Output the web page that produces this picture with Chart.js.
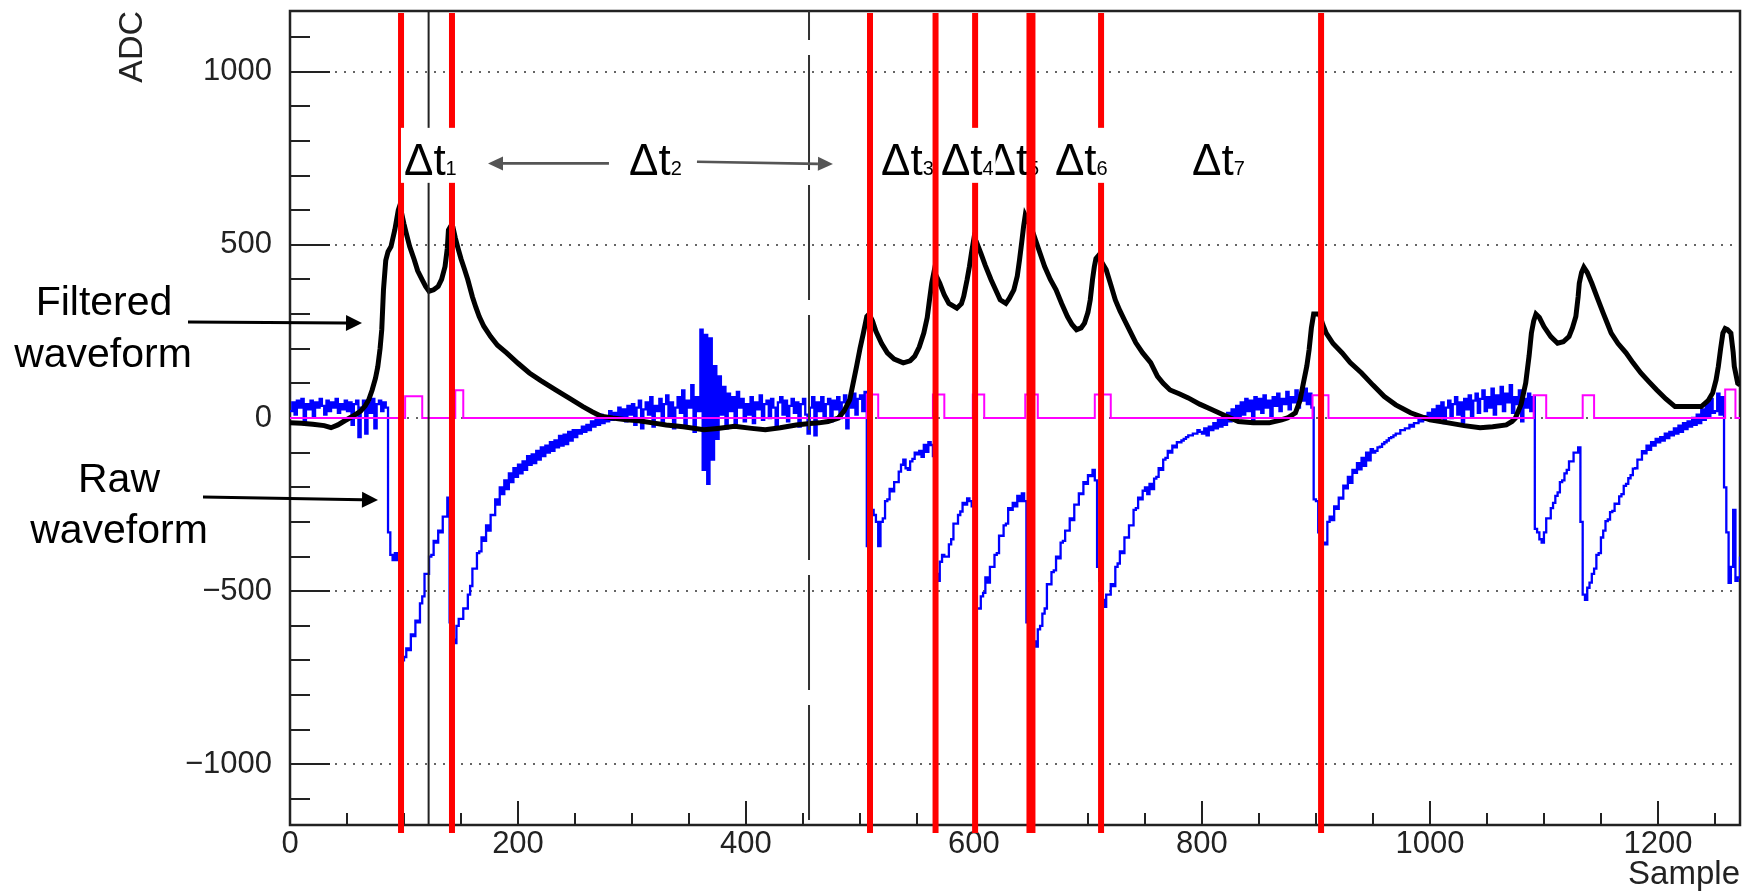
<!DOCTYPE html>
<html>
<head>
<meta charset="utf-8">
<style>
  html, body { margin: 0; padding: 0; background: #fff; }
  #wrap { width: 1742px; height: 896px; }
</style>
</head>
<body>
<div id="wrap"><canvas id="waveChart" width="1742" height="896"></canvas></div>
<script src="https://cdn.jsdelivr.net/npm/chart.js@4.4.1/dist/chart.umd.min.js"></script>
<script>
// axis tick labels
const xTickValues = [0, 200, 400, 600, 800, 1000, 1200];
const yTickValues = [-1000, -500, 0, 500, 1000];

// raw waveform, one value every rawStep samples starting at sample 0
const rawStep = 2;
const rawAdc = [
  20, 45, 10, 50, 30, 55, -15, 40, 25, 50, 5, 45, 30, 55, 35, 10, 50, 20, 45, 30, 55, 15, 40, 25, 50,
  20, 45, -20, 40, 50, -55, 30, 50, -45, 45, 15, 55, -30, 40, 50, 20, 45, 30, -330, -395, -410, -390, -410, -705, -700,
  -690, -665, -670, -625, -630, -585, -590, -535, -515, -450, -450, -400, -395, -355, -360, -325, -330, -285, -285, -230, -590, -640, -650, -600, -580,
  -580, -550, -550, -510, -485, -435, -435, -390, -385, -345, -355, -310, -325, -280, -280, -235, -250, -200, -220, -180, -205, -160, -185, -145, -170,
  -135, -160, -125, -150, -110, -135, -105, -130, -95, -120, -85, -110, -80, -100, -70, -95, -65, -85, -52, -80, -48, -75, -40, -65, -35,
  -55, -35, -45, -25, -40, -20, -35, -10, -25, 0, -20, 10, -15, 5, -10, 20, -5, 15, 0, 30, 5, 25, -10, 35, 10,
  40, -20, 30, 50, -30, 25, 45, 10, 60, -25, 35, 20, 55, -15, 40, 65, 5, 45, -30, 30, 60, 15, 80, -20, 50,
  30, 95, -40, 60, 20, 255, -150, 240, -190, 230, -120, 150, -60, 120, 10, 90, -30, 70, 20, 60, -20, 75, 30, 55, -10,
  40, 10, 60, -15, 45, 25, 65, -5, 40, 50, 0, 55, 30, -20, 45, 60, 10, 50, -10, 35, 55, 15, 45, -25, 40,
  55, 10, -45, 30, 60, -50, 45, 20, 60, 5, 40, 55, -10, 50, 25, 60, 0, 45, 65, -30, 50, 30, 70, 10, 55,
  65, 20, 75, -370, -330, -265, -280, -300, -370, -300, -290, -240, -235, -205, -212, -185, -185, -155, -135, -120, -145, -150, -125, -118, -100,
  -105, -95, -112, -78, -98, -70, -78, -110, -450, -470, -415, -395, -400, -400, -365, -350, -305, -305, -280, -270, -245, -250, -232, -240, -255,
  -580, -550, -550, -515, -505, -460, -475, -430, -430, -395, -390, -340, -340, -310, -305, -260, -265, -245, -255, -225, -240, -218, -240, -590, -600,
  -620, -645, -660, -610, -600, -565, -550, -480, -480, -445, -440, -400, -405, -360, -355, -325, -325, -290, -295, -250, -250, -218, -220, -185, -190,
  -165, -168, -150, -180, -430, -470, -525, -545, -510, -510, -480, -485, -430, -420, -385, -390, -345, -345, -310, -310, -265, -260, -230, -235, -210,
  -200, -220, -190, -205, -175, -170, -145, -150, -120, -115, -95, -100, -80, -85, -70, -70, -65, -60, -55, -50, -50, -45, -45, -35, -40,
  -45, -30, -50, -25, -35, -15, -30, -5, -25, 5, -20, 15, -10, 25, -5, 35, 5, 45, 10, 55, 20, 50, -5, 60, 25,
  55, 15, 65, 30, 50, 5, 60, 35, 70, 20, 55, 40, 75, 25, 60, 45, 80, 30, 65, 50, 85, 40, 70, 30, -235,
  -240, -330, -340, -360, -365, -300, -285, -295, -255, -262, -230, -233, -195, -203, -170, -187, -150, -158, -130, -148, -115, -138, -100, -122, -90,
  -100, -95, -85, -83, -75, -70, -65, -58, -55, -50, -45, -45, -35, -35, -30, -30, -20, -25, -15, -15, -5, -10, 5, -5, 15,
  -5, 25, -10, 35, 5, 45, -15, 30, 50, 0, 40, 60, 10, 45, -20, 55, 25, 65, 5, 50, 70, 15, 55, 80, 20,
  60, 30, 85, 10, 65, 40, 90, 20, 70, 45, 95, 15, 60, 40, 80, -10, 55, 30, 70, 20, 60, -320, -330, -350, -360,
  -330, -290, -290, -260, -245, -225, -215, -185, -180, -160, -150, -125, -125, -100, -100, -85, -300, -510, -525, -490, -475, -450, -435, -395, -390,
  -345, -325, -298, -293, -272, -268, -247, -248, -226, -220, -196, -190, -174, -165, -146, -145, -120, -120, -96, -102, -80, -92, -70, -80, -60,
  -70, -55, -65, -45, -58, -40, -50, -30, -45, -22, -40, -15, -32, -10, -25, 0, -20, 10, -15, 25, -5, 40, 5, 55, 15,
  20, 70, 10, 60, -200, -330, -476, -430, -265, -470, -460, -400
];

// filtered waveform
const filtSample = [
  0, 10, 20, 30, 36, 42, 48, 55, 62, 66, 69, 72, 75, 77, 79, 80.5, 82, 84, 86, 88.6, 92, 95, 96, 98, 100,
  102, 105, 109, 112, 116, 119, 122, 126, 130, 133, 136, 138, 139, 141, 143, 145, 147, 150, 153, 156, 160, 163, 166, 170, 176,
  182, 190, 200, 210, 220, 233, 246, 257, 265, 273, 283, 295, 306, 318, 330, 345, 363, 375, 390, 405, 417, 430, 444, 456, 464,
  472, 481, 486, 491, 494, 497, 500, 503, 506, 508, 511, 514, 519, 524, 530, 538, 544, 548, 552, 556, 559, 561, 563, 565, 567,
  570, 574, 578, 585, 589, 591, 594, 596, 598, 600, 602, 606, 610, 615, 619, 623, 628, 631, 635, 638, 640, 642, 643.5, 645, 648,
  652, 657, 662, 667, 672, 677, 682, 686, 690, 694, 697, 700, 702, 704, 705.6, 707, 709, 712, 716, 720, 724, 728, 732, 737, 742,
  748, 755, 761, 766, 772, 780, 788, 798, 809, 820, 832, 845, 859, 870, 875, 882, 886, 889, 892, 894, 896, 898, 903, 906, 909,
  915, 923, 930, 940, 950, 960, 970, 983, 1000, 1016, 1030, 1044, 1055, 1067, 1072, 1075, 1080, 1084, 1087, 1089, 1091, 1093, 1096, 1100, 1106,
  1112, 1117, 1122, 1125, 1128, 1130, 1131, 1133, 1135, 1138, 1142, 1147, 1152, 1156, 1159, 1165, 1172, 1178, 1185, 1192, 1199, 1207, 1215, 1225, 1238,
  1244, 1248, 1251, 1253, 1255, 1257, 1259, 1261, 1264, 1266, 1267, 1270, 1272
];
const filtAdc = [
  -14, -15, -18, -22, -28, -20, -8, 5, 20, 35, 52, 80, 115, 148, 200, 255, 370, 455, 480, 495, 544, 600, 610, 590, 560,
  533, 495, 457, 425, 399, 380, 366, 370, 380, 400, 437, 490, 543, 554, 550, 520, 495, 460, 430, 399, 350, 320, 293, 265, 235,
  210, 188, 158, 130, 108, 81, 55, 33, 18, 5, 0, -5, -8, -14, -20, -25, -34, -30, -24, -30, -34, -28, -20, -16, -14,
  -10, 0, 20, 52, 100, 149, 200, 245, 293, 300, 280, 250, 215, 188, 170, 159, 165, 178, 205, 245, 290, 341, 390, 423, 410,
  389, 355, 331, 317, 330, 351, 400, 437, 480, 519, 510, 476, 440, 399, 370, 341, 331, 345, 370, 410, 457, 510, 552, 585, 565,
  533, 485, 437, 400, 370, 330, 293, 270, 255, 260, 274, 305, 341, 400, 437, 460, 468, 450, 428, 385, 341, 310, 283, 250, 217,
  188, 160, 120, 100, 81, 70, 58, 40, 24, 7, -10, -14, -14, -5, 0, 15, 50, 101, 150, 197, 260, 300, 300, 270, 245,
  215, 188, 160, 130, 95, 62, 38, 15, -5, -14, -22, -28, -25, -20, -10, 0, 40, 101, 180, 245, 280, 300, 290, 264, 235,
  216, 220, 235, 260, 293, 350, 389, 420, 435, 420, 389, 345, 303, 270, 245, 215, 188, 160, 130, 105, 81, 55, 33, 33, 33,
  50, 72, 110, 149, 200, 245, 258, 255, 245, 190, 149, 100, 95
];

// trigger output (held from each sample until the next)
const trigSample = [0, 101, 116, 145, 152, 506, 516, 564, 574, 599, 609, 645, 656, 706, 720, 897, 911, 1091, 1102, 1134, 1144, 1259, 1268, 1272];
const trigAdc = [0, 63, 0, 80, 0, 68, 0, 68, 0, 68, 0, 68, 0, 68, 0, 66, 0, 66, 0, 66, 0, 82, 0, 0];

// marker positions (samples)
const redSample = [97.4, 142.1, 508.8, 566.3, 601, 650, 711.5, 904.5];
const solidSample = 121.6;
const dashedSample = 455.3;

const deltaLabels = [
  { sub: '1', s: 100, v: 702 },
  { sub: '2', s: 297.4, v: 702 },
  { sub: '3', s: 518.5, v: 702 },
  { sub: '5', s: 611, v: 702 },
  { sub: '4', s: 571, v: 702 },
  { sub: '6', s: 671, v: 702 },
  { sub: '7', s: 791.3, v: 702 }
];

const FONT = '"Liberation Sans", Arial, Helvetica, sans-serif';

function drawArrow(ctx, x1, y1, x2, y2, color, width, headLen, headW) {
  const ang = Math.atan2(y2 - y1, x2 - x1);
  const bx = x2 - headLen * Math.cos(ang);
  const by = y2 - headLen * Math.sin(ang);
  ctx.strokeStyle = color;
  ctx.fillStyle = color;
  ctx.lineWidth = width;
  ctx.beginPath();
  ctx.moveTo(x1, y1);
  ctx.lineTo(bx, by);
  ctx.stroke();
  ctx.beginPath();
  ctx.moveTo(x2, y2);
  ctx.lineTo(bx + headW * Math.sin(ang), by - headW * Math.cos(ang));
  ctx.lineTo(bx - headW * Math.sin(ang), by + headW * Math.cos(ang));
  ctx.closePath();
  ctx.fill();
}

const decorPlugin = {
  id: 'decor',
  beforeDatasetsDraw(chart) {
    const { ctx, chartArea: a, scales: { x, y } } = chart;
    ctx.save();
    // dotted grid on the major y ticks
    ctx.strokeStyle = '#333';
    ctx.lineWidth = 1.6;
    ctx.setLineDash([2, 7]);
    y.ticks.forEach(t => {
      const py = Math.round(y.getPixelForValue(t.value));
      ctx.beginPath();
      ctx.moveTo(a.left, py);
      ctx.lineTo(a.right, py);
      ctx.stroke();
    });
    ctx.setLineDash([]);

    // inward tick marks
    ctx.strokeStyle = '#222';
    ctx.lineWidth = 2;
    for (let v = Math.ceil(y.min / 100) * 100; v <= y.max; v += 100) {
      const py = Math.round(y.getPixelForValue(v));
      const len = v % 500 === 0 ? 40 : 20;
      ctx.beginPath();
      ctx.moveTo(a.left, py);
      ctx.lineTo(a.left + len, py);
      ctx.stroke();
    }
    for (let v = 0; v <= x.max; v += 50) {
      const px = Math.round(x.getPixelForValue(v));
      const len = v % 200 === 0 ? 24 : 12;
      ctx.beginPath();
      ctx.moveTo(px, a.bottom);
      ctx.lineTo(px, a.bottom - len);
      ctx.stroke();
    }

    // frame
    ctx.lineWidth = 2.5;
    ctx.strokeRect(a.left, a.top, a.right - a.left, a.bottom - a.top);
    ctx.restore();
  },
  afterDatasetsDraw(chart) {
    const { ctx, chartArea: a, scales: { x, y } } = chart;
    ctx.save();

    // thin black marker lines
    ctx.strokeStyle = '#222';
    ctx.lineWidth = 2;
    let px = x.getPixelForValue(solidSample);
    ctx.beginPath();
    ctx.moveTo(px, a.top);
    ctx.lineTo(px, a.bottom);
    ctx.stroke();

    ctx.strokeStyle = '#333';
    ctx.setLineDash([115, 15]);
    ctx.lineDashOffset = 86;
    px = x.getPixelForValue(dashedSample);
    ctx.beginPath();
    ctx.moveTo(px, a.top);
    ctx.lineTo(px, a.bottom);
    ctx.stroke();
    ctx.setLineDash([]);
    ctx.lineDashOffset = 0;

    const frontLines = [566.3, 650];
    const drawRed = s => {
      ctx.strokeStyle = '#ff0000';
      ctx.lineWidth = s === 650 ? 9 : 6;
      const p = x.getPixelForValue(s);
      ctx.beginPath();
      ctx.moveTo(p, a.top + 2);
      ctx.lineTo(p, a.bottom + 8);
      ctx.stroke();
    };
    redSample.filter(s => !frontLines.includes(s)).forEach(drawRed);

    // Δt labels on white boxes
    const big = '44px ' + FONT;
    const small = '20px ' + FONT;
    ctx.textBaseline = 'alphabetic';
    ctx.textAlign = 'left';
    deltaLabels.forEach(l => {
      const lx = x.getPixelForValue(l.s);
      const ly = y.getPixelForValue(l.v);
      ctx.font = big;
      const w1 = ctx.measureText('\u0394t').width;
      ctx.font = small;
      const w2 = ctx.measureText(l.sub).width;
      ctx.fillStyle = '#fff';
      ctx.fillRect(lx - 3, ly - 47, w1 + w2 + 5, 55);
      ctx.fillStyle = '#000';
      ctx.font = big;
      ctx.fillText('\u0394t', lx, ly);
      ctx.font = small;
      ctx.fillText(l.sub, lx + w1, ly);
    });

    redSample.filter(s => frontLines.includes(s)).forEach(drawRed);

    // arrows around Δt2
    drawArrow(ctx, x.getPixelForValue(279.8), y.getPixelForValue(735),
      x.getPixelForValue(173.7), y.getPixelForValue(735), '#555', 2.6, 15, 7);
    drawArrow(ctx, x.getPixelForValue(357), y.getPixelForValue(740),
      x.getPixelForValue(476.3), y.getPixelForValue(733), '#555', 2.6, 15, 7);

    // side annotations
    ctx.fillStyle = '#000';
    ctx.font = '41px ' + FONT;
    ctx.textAlign = 'center';
    ctx.fillText('Filtered', 104, 315);
    ctx.fillText('waveform', 103, 367);
    ctx.fillText('Raw', 119, 492);
    ctx.fillText('waveform', 119, 543);
    drawArrow(ctx, 188, 322, 362, 323, '#000', 3, 16, 8);
    drawArrow(ctx, 203, 497, 378, 500, '#000', 3, 16, 8);

    ctx.restore();
  }
};

const rawPoints = rawAdc.map((v, i) => ({ x: i * rawStep, y: v }));
const filtPoints = filtSample.map((s, i) => ({ x: s, y: filtAdc[i] }));
const trigPoints = trigSample.map((s, i) => ({ x: s, y: trigAdc[i] }));

const chart = new Chart(document.getElementById('waveChart'), {
  type: 'line',
  data: {
    datasets: [
      {
        label: 'Trigger',
        data: trigPoints,
        borderColor: '#ff00ff',
        borderWidth: 2,
        pointRadius: 0,
        stepped: true,
        order: 0
      },
      {
        label: 'Filtered waveform',
        data: filtPoints,
        borderColor: '#000000',
        borderWidth: 5,
        pointRadius: 0,
        tension: 0,
        order: 1
      },
      {
        label: 'Raw waveform',
        data: rawPoints,
        borderColor: '#0000ff',
        borderWidth: 2.3,
        pointRadius: 0,
        stepped: true,
        order: 2
      }
    ]
  },
  options: {
    responsive: false,
    animation: false,
    events: [],
    layout: { padding: { left: 0, right: 2, top: 11, bottom: 0 } },
    plugins: {
      legend: { display: false },
      tooltip: { enabled: false }
    },
    scales: {
      x: {
        type: 'linear',
        min: 0,
        max: 1272,
        grid: { display: false, drawTicks: false },
        border: { display: false },
        afterBuildTicks(scale) {
          scale.ticks = xTickValues.map(v => ({ value: v }));
        },
        ticks: {
          maxRotation: 0,
          autoSkip: false,
          padding: 1,
          color: '#222',
          font: { family: FONT, size: 31 },
          callback: v => String(v)
        },
        title: {
          display: true,
          text: 'Sample',
          align: 'end',
          color: '#222',
          padding: { top: 0, bottom: 1 },
          font: { family: FONT, size: 33 }
        },
        afterFit(scale) {
          scale.height = 71;
          scale.paddingLeft = 0;
          scale.paddingRight = 0;
        }
      },
      y: {
        min: -1175,
        max: 1175,
        grid: { display: false, drawTicks: false },
        border: { display: false },
        afterBuildTicks(scale) {
          scale.ticks = yTickValues.map(v => ({ value: v }));
        },
        ticks: {
          padding: 18,
          color: '#222',
          font: { family: FONT, size: 31 },
          callback: v => (v < 0 ? '\u2212' + Math.abs(v) : String(v))
        },
        title: {
          display: true,
          text: 'ADC',
          align: 'end',
          color: '#222',
          padding: { top: 112, bottom: 0 },
          font: { family: FONT, size: 34 }
        },
        afterFit(scale) {
          scale.width = 290;
          scale.paddingTop = 0;
          scale.paddingBottom = 0;
        }
      }
    }
  },
  plugins: [decorPlugin]
});
</script>
</body>
</html>
